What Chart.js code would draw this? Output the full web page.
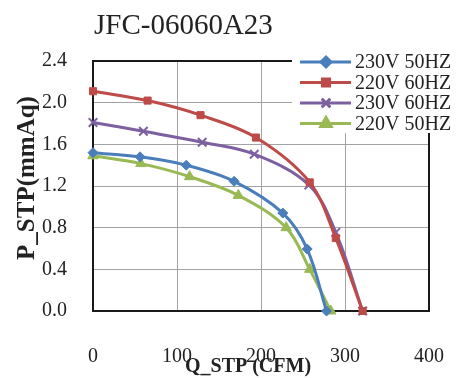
<!DOCTYPE html>
<html>
<head>
<meta charset="utf-8">
<title>JFC-06060A23</title>
<script src="https://cdn.jsdelivr.net/npm/chart.js@4/dist/chart.umd.min.js"></script>
<style>
    body { margin: 0; background: #fff; }
    #wrap { width: 466px; height: 378px; }
</style>
</head>
<body>
<div id="wrap"><canvas id="pqChart" width="466" height="378"></canvas></div>
<script>
// Fan curve data (Q in CFM, P in mmAq)
const seriesNames = ['230V 50HZ', '220V 60HZ', '230V 60HZ', '220V 50HZ'];

const q230v50 = [0, 56, 111, 168, 226, 255, 278];
const p230v50 = [1.52, 1.48, 1.40, 1.245, 0.94, 0.595, 0];

const q220v60 = [0, 65, 128, 194, 258, 289, 321];
const p220v60 = [2.11, 2.02, 1.88, 1.665, 1.235, 0.70, 0];

const q230v60 = [0, 60, 130, 192, 257, 289, 321];
const p230v60 = [1.81, 1.725, 1.62, 1.505, 1.21, 0.755, 0];

const q220v50 = [0, 57, 115, 173, 230, 258, 283];
const p220v50 = [1.49, 1.415, 1.29, 1.11, 0.80, 0.40, 0];

const xTicks = [0, 100, 200, 300, 400];
const yTicks = [0, 0.4, 0.8, 1.2, 1.6, 2.0, 2.4];

const serif = "'Liberation Serif', 'Times New Roman', serif";
const textColor = '#222222';

function toPoints(qs, ps) {
    return qs.map((q, i) => ({ x: q, y: ps[i] }));
}

function makeSet(label, qs, ps, color, style, radius) {
    return {
        label: label,
        data: toPoints(qs, ps),
        borderColor: color,
        backgroundColor: color,
        borderWidth: 3,
        pointStyle: style,
        pointRadius: radius,
        pointBorderWidth: style === 'crossRot' ? 2 : 1,
        pointBorderColor: color,
        tension: 0.35,
        clip: false
    };
}

// Plot frame on all four sides
const framePlugin = {
    id: 'frame',
    beforeDatasetsDraw(chart) {
        const a = chart.chartArea;
        const ctx = chart.ctx;
        ctx.save();
        ctx.strokeStyle = '#1a1a1a';
        ctx.lineWidth = 2;
        ctx.strokeRect(a.left, a.top, a.right - a.left, a.bottom - a.top);
        ctx.restore();
    }
};

// Title, axis titles and legend drawn like the original
const overlayPlugin = {
    id: 'overlay',
    afterDraw(chart) {
        const ctx = chart.ctx;
        ctx.save();

        ctx.fillStyle = textColor;
        ctx.font = '29px ' + serif;
        ctx.textAlign = 'left';
        ctx.textBaseline = 'alphabetic';
        ctx.fillText('JFC-06060A23', 94, 34);

        ctx.font = 'bold 20px ' + serif;
        ctx.textAlign = 'center';
        ctx.fillText('Q_STP (CFM)', 248, 372);

        ctx.save();
        ctx.translate(34, 178);
        ctx.rotate(-Math.PI / 2);
        ctx.font = 'bold 25px ' + serif;
        ctx.fillText('P_STP(mmAq)', 0, 0);
        ctx.restore();

        ctx.fillStyle = '#ffffff';
        ctx.fillRect(292, 40, 174, 93);

        ctx.textAlign = 'left';
        chart.data.datasets.forEach((ds, i) => {
            const y = 62 + i * 20.5;
            ctx.strokeStyle = ds.borderColor;
            ctx.lineWidth = 3;
            ctx.beginPath();
            ctx.moveTo(300, y);
            ctx.lineTo(351, y);
            ctx.stroke();

            Chart.helpers.drawPoint(ctx, {
                pointStyle: ds.pointStyle,
                radius: ds.pointRadius,
                borderWidth: ds.pointBorderWidth,
                rotation: 0
            }, 326, y);
            ctx.fillStyle = ds.backgroundColor;
            ctx.strokeStyle = ds.borderColor;
            ctx.lineWidth = ds.pointBorderWidth;
            ctx.fill();
            ctx.stroke();

            ctx.fillStyle = textColor;
            ctx.font = '20px ' + serif;
            ctx.textBaseline = 'middle';
            ctx.fillText(ds.label, 355, y + 1);
        });
        ctx.restore();
    }
};

const ctx = document.getElementById('pqChart').getContext('2d');
const pqChart = new Chart(ctx, {
    type: 'line',
    data: {
        datasets: [
            makeSet(seriesNames[0], q230v50, p230v50, '#4a7ebb', 'rectRot', 5),
            makeSet(seriesNames[1], q220v60, p220v60, '#be4b48', 'rect', 5),
            makeSet(seriesNames[2], q230v60, p230v60, '#7d60a0', 'crossRot', 6),
            makeSet(seriesNames[3], q220v50, p220v50, '#98b954', 'triangle', 6)
        ]
    },
    options: {
        responsive: false,
        animation: false,
        devicePixelRatio: 1,
        layout: { padding: { top: 61, right: 37, left: 0, bottom: 0 } },
        plugins: {
            legend: { display: false },
            title: { display: false },
            tooltip: { enabled: false }
        },
        scales: {
            x: {
                type: 'linear',
                min: xTicks[0],
                max: xTicks[xTicks.length - 1],
                afterFit: scale => { scale.height = 67; },
                afterBuildTicks: scale => { scale.ticks = xTicks.map(v => ({ value: v })); },
                ticks: {
                    font: { family: serif, size: 20 },
                    color: textColor,
                    padding: 0,
                    maxRotation: 0
                },
                // invisible tick marks push the labels down without widening the side padding
                grid: { color: '#a3a3a3', lineWidth: 1, drawTicks: true, tickLength: 34, tickColor: 'rgba(0,0,0,0)' },
                border: { display: false }
            },
            y: {
                type: 'linear',
                min: yTicks[0],
                max: yTicks[yTicks.length - 1],
                afterFit: scale => { scale.width = 93; },
                afterBuildTicks: scale => { scale.ticks = yTicks.map(v => ({ value: v })); },
                ticks: {
                    font: { family: serif, size: 20 },
                    color: textColor,
                    padding: 26,
                    callback: v => v.toFixed(1)
                },
                grid: { color: '#a3a3a3', lineWidth: 1, drawTicks: false },
                border: { display: false }
            }
        }
    },
    plugins: [framePlugin, overlayPlugin]
});
</script>
</body>
</html>
